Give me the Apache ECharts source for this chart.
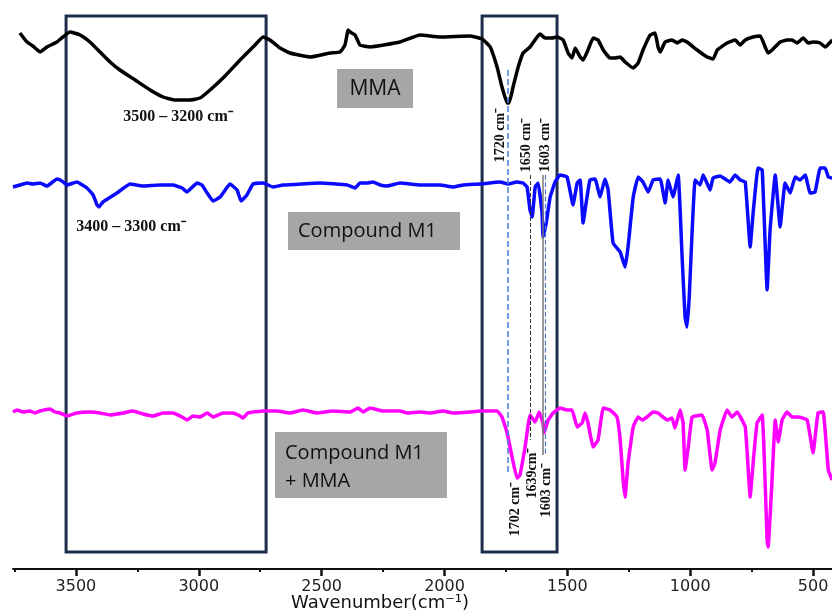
<!DOCTYPE html>
<html><head><meta charset="utf-8">
<script src="https://cdn.jsdelivr.net/npm/echarts@6/dist/echarts.min.js"></script>
<style>html,body{margin:0;padding:0;background:#fff}#c{width:832px;height:614px}</style>
</head><body><div id="c"></div>
<script>
// ---- data (wavenumber cm-1, stacked signal in arbitrary units) ----
const mmaWn = [3728,3699,3675,3646,3618,3577,3553,3524,3483,3443,3402,3361,3321,3259,3198,3145,3097,3036,2995,2954,2893,2832,2771,2738,2710,2669,2629,2547,2466,2425,2405,2392,2384,2364,2344,2303,2181,2099,2018,1896,1847,1814,1786,1766,1745,1737,1721,1700,1680,1652,1623,1611,1591,1562,1542,1517,1497,1481,1468,1448,1436,1416,1395,1375,1354,1326,1306,1285,1265,1232,1212,1192,1163,1143,1131,1122,1102,1074,1053,1033,1013,972,931,907,890,850,817,797,776,744,715,695,683,667,634,606,585,565,540,520,500,471,451,422];
const mmaSig = [536,527,523,517,522,527,532,537,534,527,517,507,499,489,479,472,469,469,471,479,493,509,524,532,529,521,516,512,516,517,524,539,537,534,524,522,527,534,532,533,530,522,502,482,466,466,482,502,516,522,532,535,531,531,532,529,516,511,521,512,509,519,531,529,519,511,511,512,507,501,506,519,534,536,522,517,527,529,526,529,527,519,512,510,519,526,529,524,529,532,533,522,516,519,527,529,529,526,531,526,527,526,522,529];

const m1Wn = [3756,3728,3699,3675,3646,3618,3577,3557,3536,3496,3455,3430,3414,3406,3390,3333,3280,3227,3158,3105,3068,3048,3007,2987,2966,2942,2913,2873,2844,2828,2804,2779,2738,2698,2657,2506,2396,2364,2344,2315,2291,2262,2234,2181,2099,2018,1965,1924,1855,1774,1741,1705,1680,1664,1652,1643,1631,1619,1603,1599,1586,1570,1550,1530,1501,1477,1460,1448,1436,1420,1408,1387,1367,1347,1334,1314,1285,1265,1253,1232,1212,1192,1171,1151,1122,1102,1090,1070,1049,1033,1021,1013,1004,992,980,960,947,919,907,878,838,817,797,776,756,744,724,707,687,675,654,634,614,593,573,553,532,512,492,471,451,438,422];
const m1Sig = [382,384,386,385,386,383,390,388,384,387,381,374,364,362,367,376,385,383,384,384,381,377,386,384,376,368,372,385,379,368,374,385,386,382,384,386,384,381,386,386,387,384,383,386,384,384,382,384,385,387,385,387,386,382,359,352,382,386,356,332,346,372,387,394,392,364,386,389,346,372,389,390,372,390,379,326,317,302,322,372,392,387,377,389,390,366,389,372,394,312,252,242,272,339,389,384,394,379,391,393,387,394,389,387,322,356,401,399,279,339,394,342,386,376,392,389,394,376,377,401,401,392,391];

const mixWn = [3756,3740,3715,3687,3667,3646,3605,3585,3565,3536,3496,3443,3402,3361,3308,3268,3227,3186,3145,3105,3068,3048,3023,2995,2966,2942,2901,2861,2832,2820,2800,2738,2682,2629,2576,2519,2454,2384,2352,2331,2303,2250,2181,2152,2099,2059,2006,1965,1896,1855,1786,1766,1745,1725,1705,1693,1672,1652,1631,1615,1599,1595,1578,1558,1530,1501,1481,1460,1440,1428,1416,1395,1375,1354,1326,1298,1285,1273,1265,1253,1232,1212,1196,1176,1151,1131,1094,1074,1062,1041,1029,1021,1008,992,952,931,911,899,878,850,830,809,776,756,744,728,707,687,683,667,654,642,626,606,585,561,524,500,480,459,438,422];
const mixSig = [157,159,157,158,156,158,160,157,156,153,156,157,156,154,156,158,155,153,156,156,152,149,153,152,156,152,156,156,153,151,156,158,158,156,159,156,158,157,161,157,161,158,158,156,157,156,158,156,157,158,158,152,136,112,91,94,122,154,147,157,146,136,149,156,161,159,159,142,146,156,146,122,129,161,159,152,129,89,72,106,142,152,149,152,157,156,149,151,141,159,146,99,122,152,154,139,99,106,139,159,152,157,142,72,106,146,154,29,22,89,149,127,149,157,152,152,149,116,156,157,99,89];

const majorTicks = [3500, 3000, 2500, 2000, 1500, 1000, 500];
const minorTicks = [3750, 3250, 2750, 2250, 1750, 1250, 750];
// highlighted wavenumber regions [from, to]
const regionA = [3540, 2726];
const regionB = [1847, 1542];
// reference peak guide lines: wavenumber, signal from, signal to
const guide1720 = [1741, 499, 97];
const guide1650 = [1652, 394, 129];
const guide1603a = [1599, 394, 114];
const guide1603b = [1591, 394, 114];

const zip = (a, b) => a.map((v, i) => [v, b[i]]);
const chart = echarts.init(document.getElementById('c'), null, {renderer: 'canvas'});
const serif = '"Liberation Serif","Times New Roman",serif';
const sans = '"Open Sans","Noto Sans",sans-serif';

function vline(g, color, type, width) {
  return [{coord: [g[0], g[1]], lineStyle: {color: color, type: type, width: width}}, {coord: [g[0], g[2]]}];
}

chart.setOption({
  animation: false,
  backgroundColor: '#fff',
  grid: {left: 13, right: 0, top: 0, bottom: 45, outerBoundsMode: 'none', containLabel: false},
  xAxis: [{
    type: 'value', min: 423, max: 3756, inverse: true,
    splitLine: {show: false},
    axisLine: {show: true, lineStyle: {color: '#111', width: 2}},
    axisTick: {show: true, inside: false, length: 7, lineStyle: {color: '#111', width: 2.5}, customValues: majorTicks},
    axisLabel: {show: true, margin: 10, color: '#222', fontFamily: '"DejaVu Sans",sans-serif', fontSize: 16,
      customValues: majorTicks, formatter: v => String(v)},
  }, {
    type: 'value', min: 423, max: 3756, inverse: true, position: 'bottom', gridIndex: 0,
    splitLine: {show: false},
    axisLine: {show: false},
    axisTick: {show: true, length: 3, lineStyle: {color: '#111', width: 2}, customValues: minorTicks},
    axisLabel: {show: false}
  }],
  yAxis: {type: 'value', min: 0, max: 569, show: false},
  series: [
    {name: 'MMA', type: 'line', data: zip(mmaWn, mmaSig), showSymbol: false, smooth: 0.12,
      lineStyle: {color: '#000', width: 3.5}, z: 2},
    {name: 'Compound M1', type: 'line', data: zip(m1Wn, m1Sig), showSymbol: false, smooth: 0.1,
      lineStyle: {color: '#0a0aff', width: 3.5}, z: 2},
    {name: 'Compound M1 + MMA', type: 'line', data: zip(mixWn, mixSig), showSymbol: false, smooth: 0.1,
      lineStyle: {color: '#ff00ff', width: 3.5}, z: 2,
      markLine: {silent: true, symbol: 'none', label: {show: false},
        data: [
          vline(guide1720, '#4a7bd4', 'dashed', 1.5),
          vline(guide1650, '#333', 'dashed', 1),
          vline(guide1603a, '#777', 'solid', 1.5),
          vline(guide1603b, '#4a7bd4', 'dashed', 1.2)
        ]},
      markArea: {silent: true, label: {show: false},
        itemStyle: {color: 'rgba(0,0,0,0)', borderColor: '#1f2d4d', borderWidth: 3},
        data: [
          [{coord: [regionA[0], 553]}, {coord: [regionA[1], 17]}],
          [{coord: [regionB[0], 553]}, {coord: [regionB[1], 17]}]
        ]}
    }
  ],
  graphic: [
    {type: 'rect', shape: {x: 337, y: 69, width: 76, height: 39}, style: {fill: '#a6a6a6'}, z: 10},
    {type: 'text', x: 375, y: 89, z: 11, style: {text: 'MMA', fill: '#111', font: '21px ' + sans, align: 'center', verticalAlign: 'middle'}},
    {type: 'rect', shape: {x: 288, y: 212, width: 172, height: 38}, style: {fill: '#a6a6a6'}, z: 10},
    {type: 'text', x: 298, y: 231, z: 11, style: {text: 'Compound M1', fill: '#111', font: '20px ' + sans, align: 'left', verticalAlign: 'middle'}},
    {type: 'rect', shape: {x: 275, y: 432, width: 172, height: 66}, style: {fill: '#a6a6a6'}, z: 10},
    {type: 'text', x: 285, y: 453, z: 11, style: {text: 'Compound M1', fill: '#111', font: '20px ' + sans, align: 'left', verticalAlign: 'middle'}},
    {type: 'text', x: 285, y: 481, z: 11, style: {text: '+ MMA', fill: '#111', font: '20px ' + sans, align: 'left', verticalAlign: 'middle'}},
    {type: 'text', x: 178, y: 117, z: 11, style: {text: '3500 – 3200 cm⁻', fill: '#111', font: 'bold 16px ' + serif, align: 'center', verticalAlign: 'middle'}},
    {type: 'text', x: 131, y: 227, z: 11, style: {text: '3400 – 3300 cm⁻', fill: '#111', font: 'bold 16px ' + serif, align: 'center', verticalAlign: 'middle'}},
    {type: 'text', x: 500, y: 135, rotation: Math.PI / 2, z: 11, style: {text: '1720 cm⁻', fill: '#111', font: 'bold 14px ' + serif, align: 'center', verticalAlign: 'middle'}},
    {type: 'text', x: 526, y: 145, rotation: Math.PI / 2, z: 11, style: {text: '1650 cm⁻', fill: '#111', font: 'bold 14px ' + serif, align: 'center', verticalAlign: 'middle'}},
    {type: 'text', x: 545, y: 145, rotation: Math.PI / 2, z: 11, style: {text: '1603 cm⁻', fill: '#111', font: 'bold 14px ' + serif, align: 'center', verticalAlign: 'middle'}},
    {type: 'text', x: 515, y: 509, rotation: Math.PI / 2, z: 11, style: {text: '1702 cm⁻', fill: '#111', font: 'bold 14px ' + serif, align: 'center', verticalAlign: 'middle'}},
    {type: 'text', x: 532, y: 473, rotation: Math.PI / 2, z: 11, style: {text: '1639cm⁻', fill: '#111', font: 'bold 14px ' + serif, align: 'center', verticalAlign: 'middle'}},
    {type: 'text', x: 546, y: 490, rotation: Math.PI / 2, z: 11, style: {text: '1603 cm⁻', fill: '#111', font: 'bold 14px ' + serif, align: 'center', verticalAlign: 'middle'}},
    {type: 'text', x: 380, y: 603, z: 11, style: {text: 'Wavenumber(cm⁻¹)', fill: '#111', font: '18px "DejaVu Sans",sans-serif', align: 'center', verticalAlign: 'middle'}}
  ]
});
</script></body></html>
